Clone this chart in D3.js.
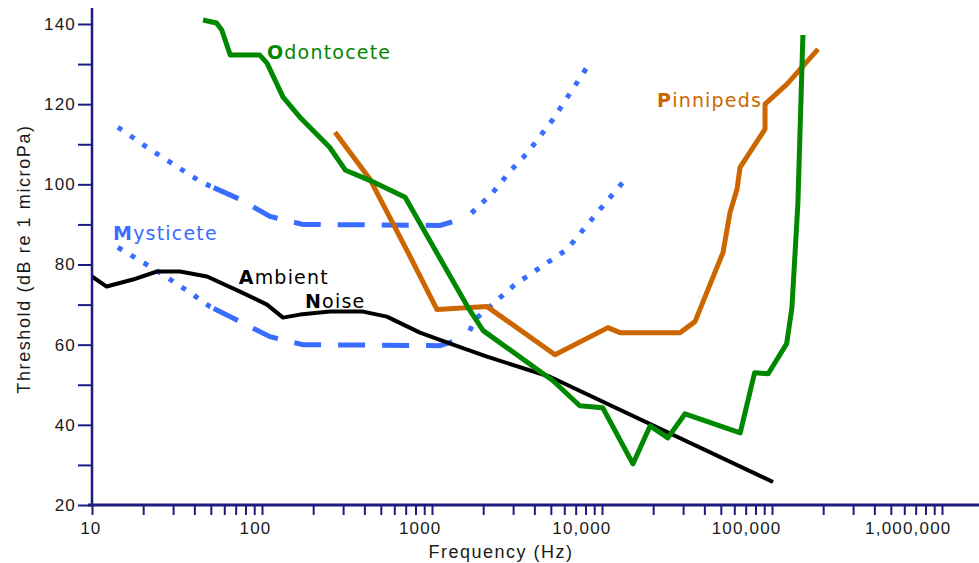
<!DOCTYPE html>
<html><head><meta charset="utf-8">
<script src="https://cdn.jsdelivr.net/npm/d3@7"></script>
<style>html,body{margin:0;padding:0;background:#fff;overflow:hidden}</style>
</head><body><svg id="c" width="979" height="563"></svg>
<script>
// ---- data (frequency in Hz, threshold in dB re 1 microPa) ----
const odontoFreq = [45, 54, 58, 65, 97, 107, 133, 167, 250, 310, 430, 695, 1630, 2000, 5150, 7400, 10100, 15200, 19200, 24400, 30800, 65000, 79000, 95000, 122000, 131000, 142000, 152000];
const odontoDb   = [141, 140.25, 138.5, 132.25, 132.25, 130.25, 121.75, 116.75, 109.25, 103.5, 101, 96.75, 69.25, 63.5, 51, 44.75, 44.25, 30.25, 39.75, 36.75, 42.75, 38, 53, 52.75, 60.25, 69.25, 95.25, 137.25];

const pinniFreq = [269, 432, 743, 1070, 2108, 5290, 10840, 12760, 28770, 35240, 51500, 56640, 62260, 64860, 91000, 91000, 122500, 186600];
const pinniDb   = [113, 101.25, 82, 68.75, 69.5, 57.5, 64.25, 63, 63, 65.75, 83, 93, 98.75, 104.25, 113.75, 120, 125, 133.75];

const noiseFreq = [10, 12.2, 17.4, 24.1, 32.9, 47.5, 74.2, 107, 133, 167, 251, 393, 543, 849, 1330, 2108, 4940, 101400];
const noiseDb   = [77, 74.5, 76.25, 78.25, 78.25, 77, 73.25, 70, 66.75, 67.5, 68.25, 68.25, 67, 63, 60, 57, 52, 25.75];

const mystUpperFreq = [14.2, 21.9, 43.2, 49.4, 74.2, 111.4, 174, 1114, 1607, 2285, 2876, 3670, 5150, 7620, 8390];
const mystUpperDb   = [114.25, 108.75, 100.75, 99.6, 96.25, 92, 90, 89.75, 91.75, 98, 103.25, 108, 116.25, 127.25, 130];

const mystLowerFreq = [14.2, 23.5, 37.7, 49.4, 74.2, 111.4, 174, 1114, 1607, 1790, 3076, 6220, 9730, 14220];
const mystLowerDb   = [84.25, 78.75, 73, 69.5, 65.75, 62, 60, 59.75, 62, 66.25, 75, 83.75, 93.75, 102];

// frequency band where the Mysticete curves are drawn dashed (dotted outside)
const mystDashedBand = [52, 1610];

const xMajorTicks = [10, 100, 1000, 10000, 100000, 1000000];
const xTickLabels = ["10", "100", "1000", "10,000", "100,000", "1,000,000"];
const yMajorTicks = [20, 40, 60, 80, 100, 120, 140];
const yMinorTicks = [30, 50, 70, 90, 110, 130];

const labelNames = ["Odontocete", "Mysticete", "Ambient", "Noise", "Pinnipeds"];
const labelFreq  = [107, 13.3, 73, 179, 21070];
const labelDb    = [131.25, 86, 75.2, 69.1, 119.25];

// ---- drawing ----
const W = 979, H = 563;
const svg = d3.select("#c");
const x = d3.scaleLog().domain([10, 1e6]).range([92, 942]);
const y = d3.scaleLinear().domain([20, 140]).range([505, 24]);
const AXIS = "#1c1c80";

const line = d3.line().x(d => x(d[0])).y(d => y(d[1])).curve(d3.curveLinear);
const zip = (a, b) => a.map((v, i) => [v, b[i]]);
const interp = (pts, f) => {
  for (let i = 1; i < pts.length; i++) {
    if (pts[i][0] >= f) {
      const a = pts[i - 1], b = pts[i];
      const t = (Math.log(f) - Math.log(a[0])) / (Math.log(b[0]) - Math.log(a[0]));
      return [f, a[1] + t * (b[1] - a[1])];
    }
  }
  return pts[pts.length - 1];
};

// Mysticete
function drawMyst(freq, db) {
  const pts = zip(freq, db);
  const p0 = interp(pts, mystDashedBand[0]), p1 = interp(pts, mystDashedBand[1]);
  const before = pts.filter(p => p[0] < mystDashedBand[0]).concat([p0]);
  const mid = [p0].concat(pts.filter(p => p[0] > mystDashedBand[0] && p[0] < mystDashedBand[1]), [p1]);
  const after = [p1].concat(pts.filter(p => p[0] > mystDashedBand[1]));
  const g = svg.append("g").attr("fill", "none").attr("stroke", "#3a6cff");
  g.append("path").attr("d", line(before)).attr("stroke-width", 5).attr("stroke-dasharray", "5 10");
  g.append("path").attr("d", line(mid)).attr("stroke-width", 5).attr("stroke-dasharray", "27 17");
  g.append("path").attr("d", line(after)).attr("stroke-width", 5).attr("stroke-dasharray", "5 10").attr("stroke-dashoffset", -6);
}
drawMyst(mystUpperFreq, mystUpperDb);
drawMyst(mystLowerFreq, mystLowerDb);

svg.append("path").attr("d", line(zip(noiseFreq, noiseDb)))
  .attr("fill", "none").attr("stroke", "#000").attr("stroke-width", 4).attr("stroke-linejoin", "round");
svg.append("path").attr("d", line(zip(pinniFreq, pinniDb)))
  .attr("fill", "none").attr("stroke", "#cc6600").attr("stroke-width", 5).attr("stroke-linejoin", "round");
svg.append("path").attr("d", line(zip(odontoFreq, odontoDb)))
  .attr("fill", "none").attr("stroke", "#008800").attr("stroke-width", 5).attr("stroke-linejoin", "round");

// axes
const xMinor = [];
for (let d = 10; d < 1e6; d *= 10) for (let m = 2; m <= 9; m++) xMinor.push(d * m);
const xAll = xMajorTicks.concat(xMinor);
const xAxis = d3.axisBottom(x).tickValues(xAll).tickSize(10).tickSizeOuter(0)
  .tickFormat(v => { const i = xMajorTicks.indexOf(v); return i >= 0 ? xTickLabels[i] : ""; });
const gx = svg.append("g").attr("transform", `translate(0,${y(20)})`).call(xAxis);
gx.select(".domain").remove();
gx.selectAll(".tick line").attr("stroke", AXIS).attr("stroke-width", 2);
gx.selectAll(".tick text").attr("fill", "#1a1a1a").attr("font-family", "Liberation Sans, Arial, sans-serif")
  .attr("font-size", 17).attr("letter-spacing", 1.2).attr("text-anchor", "end").attr("dx", 9).attr("y", 17);
svg.append("line").attr("x1", x(10) - 4).attr("x2", W).attr("y1", y(20)).attr("y2", y(20))
  .attr("stroke", AXIS).attr("stroke-width", 3);

const yAxis = d3.axisLeft(y).tickValues(yMajorTicks.concat(yMinorTicks)).tickSize(14).tickSizeOuter(0)
  .tickFormat(v => yMajorTicks.includes(v) ? String(v) : "");
const gy = svg.append("g").attr("transform", `translate(${x(10)},0)`).call(yAxis);
gy.select(".domain").remove();
gy.selectAll(".tick line").attr("stroke", AXIS).attr("stroke-width", 2);
gy.selectAll(".tick text").attr("fill", "#1a1a1a").attr("font-family", "Liberation Sans, Arial, sans-serif")
  .attr("font-size", 17).attr("letter-spacing", 1.2).attr("x", -16);
svg.append("line").attr("x1", x(10)).attr("x2", x(10)).attr("y1", 8).attr("y2", y(20) + 1.5)
  .attr("stroke", AXIS).attr("stroke-width", 2.5);

// axis titles
svg.append("text").attr("x", 501).attr("y", 558).attr("text-anchor", "middle")
  .attr("font-family", "Liberation Sans, Arial, sans-serif").attr("font-size", 18).attr("letter-spacing", 1.5)
  .attr("fill", "#1a1a1a").text("Frequency (Hz)");
svg.append("text").attr("transform", "translate(30,259) rotate(-90)").attr("text-anchor", "middle")
  .attr("font-family", "Liberation Sans, Arial, sans-serif").attr("font-size", 18).attr("letter-spacing", 1.6)
  .attr("fill", "#1a1a1a").text("Threshold (dB re 1 microPa)");

// curve labels
const labelColors = ["#008800", "#3a6cff", "#000", "#000", "#cc6600"];
labelNames.forEach((name, i) => {
  const t = svg.append("text").attr("x", x(labelFreq[i])).attr("y", y(labelDb[i]))
    .attr("font-family", "DejaVu Sans, Verdana, sans-serif").attr("font-size", 19).attr("letter-spacing", 1.2)
    .attr("fill", labelColors[i]);
  t.append("tspan").attr("font-weight", "bold").text(name[0]);
  t.append("tspan").text(name.slice(1));
});
</script>
</body></html>
